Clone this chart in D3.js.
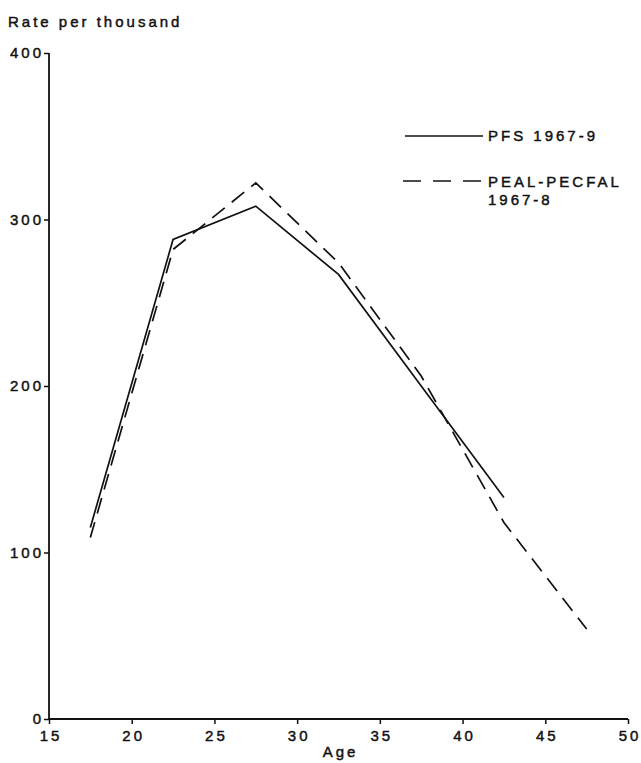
<!DOCTYPE html>
<html>
<head>
<meta charset="utf-8">
<script src="https://cdn.jsdelivr.net/npm/d3@7"></script>
<style>
  body { margin: 0; background: #fff; }
  svg { display: block; }
  text { font-family: "Liberation Sans", Arial, sans-serif; fill: #111; stroke: #111; stroke-width: 0.45px; }
</style>
</head>
<body>
<svg id="chart" width="641" height="763"></svg>
<script>
const ages = [17.5, 22.5, 27.5, 32.5, 37.5, 42.5, 47.5];
const pfs = [115, 288, 308, 267, 200, 133];          // PFS 1967-9
const peal = [109, 282, 322, 274, 206, 118, 54];     // PEAL-PECFAL 1967-8
const xTicks = [15, 20, 25, 30, 35, 40, 45, 50];
const yTicks = [0, 100, 200, 300, 400];

const svg = d3.select("#chart");
const x = d3.scaleLinear().domain([15, 50]).range([49, 628]);
const y = d3.scaleLinear().domain([0, 400]).range([719, 53]);

const ls = "3px";
const fs = "15px";

// Y axis
const yAxis = svg.append("g").attr("transform", `translate(${x(15)},0)`)
  .call(d3.axisLeft(y).tickValues(yTicks).tickSize(5).tickPadding(3).tickFormat(d3.format("d")));
yAxis.select(".domain").attr("stroke", "#111").attr("stroke-width", 1.8).attr("d", `M0,${y(0)}V${y(400)}`);
yAxis.selectAll(".tick line").attr("stroke", "#111").attr("stroke-width", 1.5);
yAxis.selectAll(".tick text").style("font-size", fs).style("letter-spacing", ls).attr("dx", "3px").attr("fill", "#111");

// X axis
const xAxis = svg.append("g").attr("transform", `translate(0,${y(0)})`)
  .call(d3.axisBottom(x).tickValues(xTicks).tickSize(5).tickPadding(6).tickFormat(d3.format("d")));
xAxis.select(".domain").attr("stroke", "#111").attr("stroke-width", 1.8).attr("d", `M${x(15)},0H${x(50)}`);
xAxis.selectAll(".tick line").attr("stroke", "#111").attr("stroke-width", 1.5);
xAxis.selectAll(".tick text").style("font-size", fs).style("letter-spacing", ls).attr("dx", "1.5px").attr("fill", "#111");

// Titles
svg.append("text").attr("x", 8).attr("y", 27).text("Rate per thousand")
  .style("font-size", fs).style("letter-spacing", ls);
svg.append("text").attr("x", x(32.5) + 2).attr("y", 757).attr("text-anchor", "middle").text("Age")
  .style("font-size", fs).style("letter-spacing", ls);

// Lines
const line = d3.line().x(d => x(d[0])).y(d => y(d[1]));
svg.append("path").datum(pfs.map((v, i) => [ages[i], v]))
  .attr("d", line).attr("fill", "none").attr("stroke", "#111").attr("stroke-width", 1.7);
svg.append("path").datum(peal.map((v, i) => [ages[i], v]))
  .attr("d", line).attr("fill", "none").attr("stroke", "#111").attr("stroke-width", 1.7)
  .attr("stroke-dasharray", "16,9");

// Legend
const lg = svg.append("g");
lg.append("line").attr("x1", 405).attr("x2", 483).attr("y1", 136).attr("y2", 136)
  .attr("stroke", "#111").attr("stroke-width", 1.7);
lg.append("text").attr("x", 488).attr("y", 141).text("PFS 1967-9")
  .style("font-size", fs).style("letter-spacing", ls).style("white-space", "pre");
lg.append("line").attr("x1", 403).attr("x2", 481).attr("y1", 181).attr("y2", 181)
  .attr("stroke", "#111").attr("stroke-width", 1.7).attr("stroke-dasharray", "18,12");
lg.append("text").attr("x", 488).attr("y", 187).text("PEAL-PECFAL")
  .style("font-size", fs).style("letter-spacing", ls);
lg.append("text").attr("x", 488).attr("y", 205).text("1967-8")
  .style("font-size", fs).style("letter-spacing", ls);
</script>
</body>
</html>
